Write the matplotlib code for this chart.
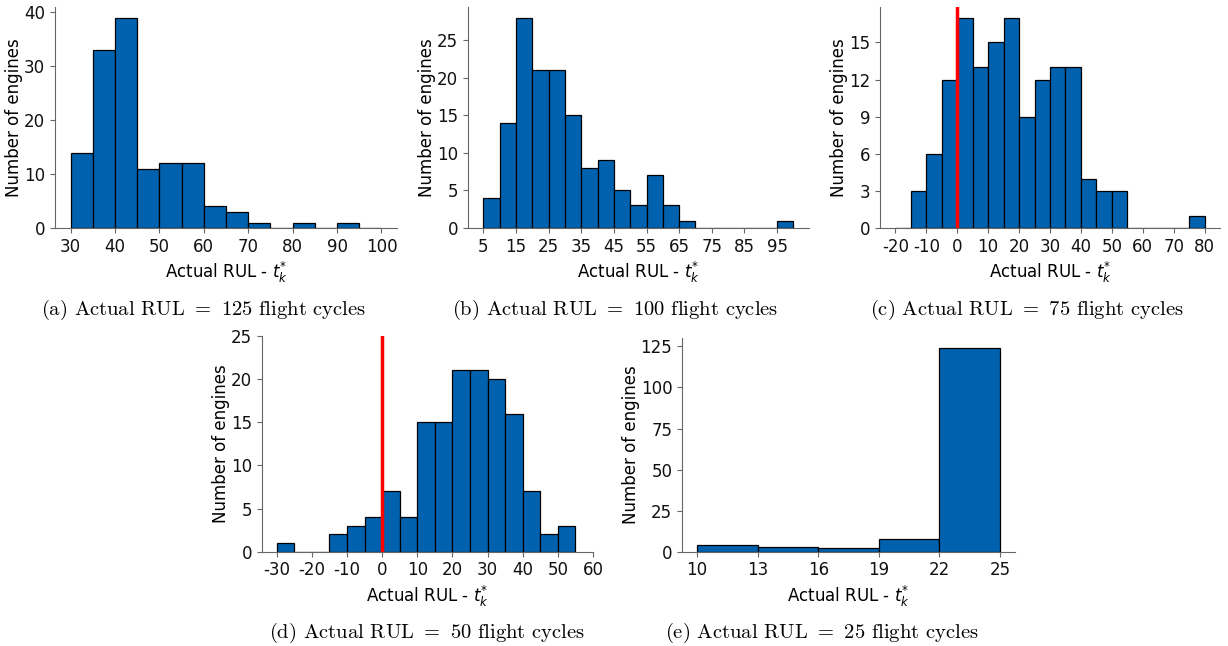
import numpy as np
import matplotlib
matplotlib.use("Agg")
import matplotlib.pyplot as plt

# bin edges and counts
edges_a = np.arange(30, 101, 5)
counts_a = [14, 33, 39, 11, 12, 12, 4, 3, 1, 0, 1, 0, 1, 0]

edges_b = np.arange(5, 101, 5)
counts_b = [4, 14, 28, 21, 21, 15, 8, 9, 5, 3, 7, 3, 1, 0, 0, 0, 0, 0, 1]

edges_c = np.arange(-20, 81, 5)
counts_c = [0, 3, 6, 12, 17, 13, 15, 17, 9, 12, 13, 13, 4, 3, 3, 0, 0, 0, 0, 1]

edges_d = np.arange(-30, 56, 5)
counts_d = [1, 0, 0, 2, 3, 4, 7, 4, 15, 15, 21, 21, 20, 16, 7, 2, 3]

edges_e = np.arange(10, 26, 3)
counts_e = [4, 3, 2, 8, 124]

xticks_a = np.arange(30, 101, 10)
xticks_b = np.arange(5, 96, 10)
xticks_c = np.arange(-20, 81, 10)
xticks_d = np.arange(-30, 61, 10)
xticks_e = np.arange(10, 26, 3)

yticks_c = np.arange(0, 16, 3)
yticks_e = np.arange(0, 126, 25)

captions = [
    "(a) Actual RUL $=$ 125 flight cycles",
    "(b) Actual RUL $=$ 100 flight cycles",
    "(c) Actual RUL $=$ 75 flight cycles",
    "(d) Actual RUL $=$ 50 flight cycles",
    "(e) Actual RUL $=$ 25 flight cycles",
]

BAR = "#0062ae"
FS = 12
plt.rcParams["axes.unicode_minus"] = False
plt.rcParams["mathtext.fontset"] = "cm"

fig = plt.figure(figsize=(12.28, 6.46), dpi=100)

def panel(rect, edges, counts, xticks, yticks=None, red=False, ylim=None, xlim=None):
    ax = fig.add_axes(rect)
    ax.hist(edges[:-1], bins=edges, weights=counts, color=BAR,
            edgecolor="black", linewidth=0.9)
    ax.set_xticks(xticks)
    if yticks is not None:
        ax.set_yticks(yticks)
    if ylim is not None:
        ax.set_ylim(ylim)
    if xlim is not None:
        ax.set_xlim(xlim)
    if red:
        ax.axvline(0, color="red", linewidth=2.5, zorder=3)
    ax.spines["top"].set_visible(False)
    ax.spines["right"].set_visible(False)
    for s in ("left", "bottom"):
        ax.spines[s].set_color("#666666")
    ax.tick_params(labelsize=FS, color="#666666", labelcolor="#111111")
    ax.set_xlabel("Actual RUL - $t_k^{*}$", fontsize=FS, labelpad=3,
                  math_fontfamily="dejavusans")
    ax.set_ylabel("Number of engines", fontsize=FS, labelpad=0.5)
    return ax

panel([0.0448, 0.647, 0.2785, 0.342], edges_a, counts_a, xticks_a)
panel([0.381, 0.647, 0.2777, 0.342], edges_b, counts_b, xticks_b)
panel([0.7166, 0.647, 0.2769, 0.342], edges_c, counts_c, xticks_c,
      yticks=yticks_c, red=True)
panel([0.2131, 0.146, 0.2698, 0.334], edges_d, counts_d, xticks_d,
      red=True, ylim=(0, 25), xlim=(-34.25, 60))
panel([0.5554, 0.146, 0.2712, 0.331], edges_e, counts_e, xticks_e,
      yticks=yticks_e)

cap_pos = [(204, 310), (615, 310), (1027, 310), (427, 633), (822, 633)]
for txt, (px, py) in zip(captions, cap_pos):
    fig.text(px / 1228, 1 - py / 646, txt, ha="center", va="center",
             fontsize=14.8, family="cmr10", math_fontfamily="cm")

fig.savefig("out.png", dpi=100)
